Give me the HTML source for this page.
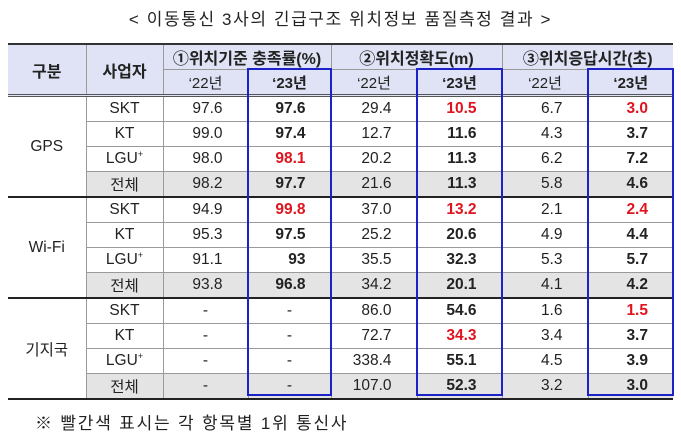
<!DOCTYPE html>
<html><head><meta charset="utf-8">
<style>
body{margin:0;width:681px;height:442px;background:#fff;position:relative;overflow:hidden;font-family:"Liberation Sans","Noto Sans CJK KR",sans-serif;color:#222}
.title{position:absolute;top:5px;left:0;width:681px;text-align:center;font-size:17px;letter-spacing:1.6px}
table{position:absolute;left:8px;top:43px;border-collapse:collapse;table-layout:fixed;font-size:15.5px}
td,th{padding:0;height:24px;border:1px solid #9a9a9a;text-align:center;white-space:nowrap}
th{background:#dfe3f5;font-weight:bold;font-size:16px}
th.y{font-weight:normal;font-size:15px}
th.y.b{font-weight:bold}
tr.h1 th{border-top:2px solid #333}
tr.h2 th{border-bottom:3px double #555}
.first{border-left:none}
.last{border-right:none}
td.n{text-align:right;padding-right:25px}
td.b{font-weight:bold}
.r{color:#e0141e}
tr.tot td{background:#e4e4e4}
tr.tot td.g{background:#fff}
tr.gend td{border-bottom:2px solid #222}
.box{position:absolute;border:2px solid #1c22c8;box-sizing:border-box;top:68px;height:328px}
.note{position:absolute;left:35px;top:409px;font-size:17px;letter-spacing:1.8px}
sup{font-size:9px}
</style></head><body>
<div class="title">&lt; 이동통신 3사의 긴급구조 위치정보 품질측정 결과 &gt;</div>
<table>
<colgroup><col style="width:78px"><col style="width:77px"><col style="width:85px"><col style="width:83px"><col style="width:86px"><col style="width:85px"><col style="width:86px"><col style="width:85px"></colgroup>
<tr class="h1"><th rowspan="2" class="first" style="border-bottom:3px double #555">구분</th><th rowspan="2" style="border-bottom:3px double #555">사업자</th><th colspan="2">①위치기준 충족률(%)</th><th colspan="2">②위치정확도(m)</th><th colspan="2" class="last">③위치응답시간(초)</th></tr>
<tr class="h2"><th class="y">‘22년</th><th class="y b">‘23년</th><th class="y">‘22년</th><th class="y b">‘23년</th><th class="y">‘22년</th><th class="y b last">‘23년</th></tr>

<tr><td rowspan="4" class="first g" style="border-bottom:2px solid #222">GPS</td><td>SKT</td><td class="n">97.6</td><td class="n b">97.6</td><td class="n">29.4</td><td class="n b r">10.5</td><td class="n">6.7</td><td class="n b r last">3.0</td></tr>
<tr><td>KT</td><td class="n">99.0</td><td class="n b">97.4</td><td class="n">12.7</td><td class="n b">11.6</td><td class="n">4.3</td><td class="n b last">3.7</td></tr>
<tr><td>LGU<sup>+</sup></td><td class="n">98.0</td><td class="n b r">98.1</td><td class="n">20.2</td><td class="n b">11.3</td><td class="n">6.2</td><td class="n b last">7.2</td></tr>
<tr class="tot gend"><td>전체</td><td class="n">98.2</td><td class="n b">97.7</td><td class="n">21.6</td><td class="n b">11.3</td><td class="n">5.8</td><td class="n b last">4.6</td></tr>

<tr><td rowspan="4" class="first g" style="border-bottom:2px solid #222">Wi-Fi</td><td>SKT</td><td class="n">94.9</td><td class="n b r">99.8</td><td class="n">37.0</td><td class="n b r">13.2</td><td class="n">2.1</td><td class="n b r last">2.4</td></tr>
<tr><td>KT</td><td class="n">95.3</td><td class="n b">97.5</td><td class="n">25.2</td><td class="n b">20.6</td><td class="n">4.9</td><td class="n b last">4.4</td></tr>
<tr><td>LGU<sup>+</sup></td><td class="n">91.1</td><td class="n b">93</td><td class="n">35.5</td><td class="n b">32.3</td><td class="n">5.3</td><td class="n b last">5.7</td></tr>
<tr class="tot gend"><td>전체</td><td class="n">93.8</td><td class="n b">96.8</td><td class="n">34.2</td><td class="n b">20.1</td><td class="n">4.1</td><td class="n b last">4.2</td></tr>

<tr><td rowspan="4" class="first g" style="border-bottom:2px solid #222">기지국</td><td>SKT</td><td>-</td><td>-</td><td class="n">86.0</td><td class="n b">54.6</td><td class="n">1.6</td><td class="n b r last">1.5</td></tr>
<tr><td>KT</td><td>-</td><td>-</td><td class="n">72.7</td><td class="n b r">34.3</td><td class="n">3.4</td><td class="n b last">3.7</td></tr>
<tr><td>LGU<sup>+</sup></td><td>-</td><td>-</td><td class="n">338.4</td><td class="n b">55.1</td><td class="n">4.5</td><td class="n b last">3.9</td></tr>
<tr class="tot gend"><td>전체</td><td>-</td><td>-</td><td class="n">107.0</td><td class="n b">52.3</td><td class="n">3.2</td><td class="n b last">3.0</td></tr>
</table>
<div class="box" style="left:247px;width:85px"></div>
<div class="box" style="left:416px;width:87px"></div>
<div class="box" style="left:587px;width:87px"></div>
<div class="note">※ 빨간색 표시는 각 항목별 1위 통신사</div>
</body></html>
